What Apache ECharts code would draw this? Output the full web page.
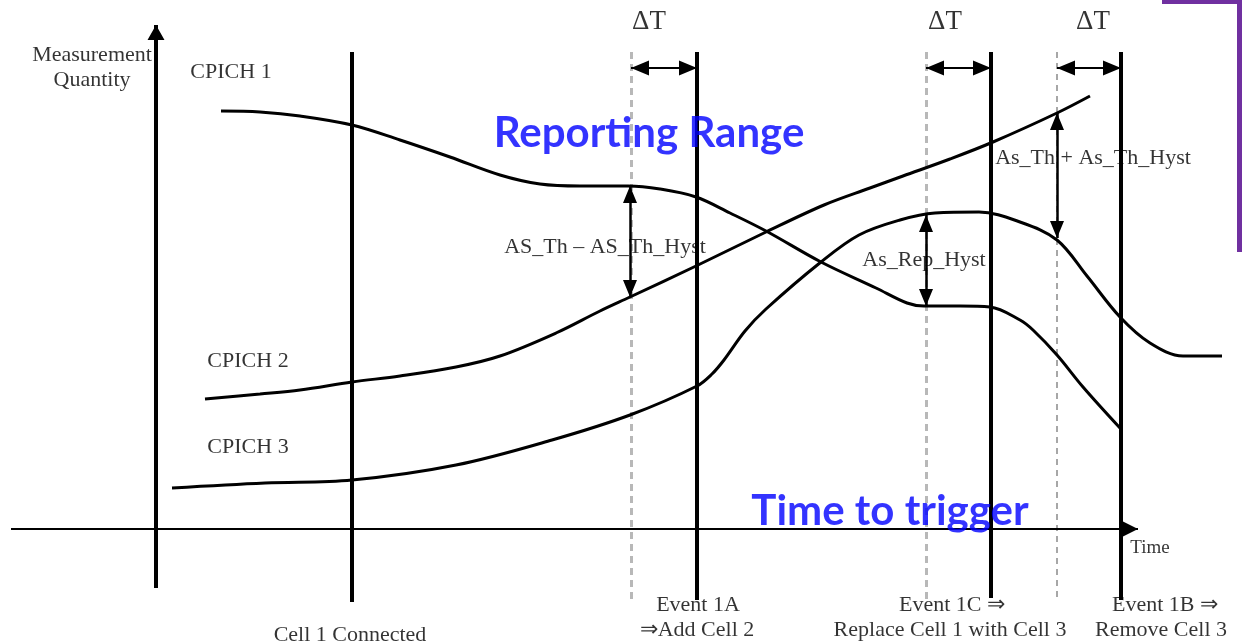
<!DOCTYPE html>
<html><head><meta charset="utf-8">
<script src="https://cdn.jsdelivr.net/npm/echarts@6/dist/echarts.min.js"></script>
<style>html,body{margin:0;padding:0;background:#fff}#c{width:1242px;height:644px}</style>
</head><body><div id="c"></div>
<script>
// Data in diagram units: x = time, y = measurement (axis drawn inverted)
const cpich1 = [[221,111],[260,112],[300,116],[352,125],[400,140],[450,157],[500,175],[540,184],[580,186],[628,186],[660,189],[696,197],[730,213],[766,231],[821,262],[876,288],[907,303],[924,306],[960,306],[990,307],[1020,320],[1033,330],[1057,355],[1083,387],[1120,428]];
const cpich2 = [[205,399],[260,394],[300,390],[352,382],[400,376],[456,367],[500,356],[556,333],[600,311],[630,297],[696,266],[766,232],[824,205],[870,188],[903,176],[950,159],[993,142],[1057,113],[1090,96]];
const cpich3 = [[172,488],[265,483],[352,480],[456,465],[552,440],[630,415],[697,386],[712,374],[724,360],[745,331],[766,309],[821,262],[859,235],[900,220],[935,213],[979,212],[1020,222],[1057,240],[1087,276],[1120,317],[1150,343],[1183,356],[1222,356]];
const eventTimes = [352, 697, 991, 1121];
const eventSpan = [[52,602],[52,600],[52,598],[52,600]];
const triggerStarts = [631, 926];
const triggerStartsThin = [1057];
const triggerSpan = [52, 602];
const deltaLevel = 68;
const deltaPairs = [[631,697],[926,991],[1057,1121]];
const hystArrows = [[630,186,297],[926,215,306],[1057,113,238]];
const yAxisLine = [[156,588],[156,25]];
const xAxisLine = [[11,529],[1138,529]];
const serifLabels = [
  ['Measurement\nQuantity',92,68],['CPICH 1',231,72],['CPICH 2',248,361],['CPICH 3',248,447],
  ['AS_Th – AS_Th_Hyst',605,247],['As_Rep_Hyst',924,260],['As_Th + As_Th_Hyst',1093,158],
  ['Cell 1 Connected',350,635],['Event 1A',698,605],['⇒Add Cell 2',697,630],
  ['Event 1C ⇒',952,605],['Replace Cell 1 with Cell 3',950,630],['Event 1B ⇒',1165,605],['Remove Cell 3',1161,630]
];
const deltaLabels = [['ΔT',649,22],['ΔT',945,22],['ΔT',1093,22]];
const timeLabel = [['Time',1150,548]];
const blueLabels = [['Reporting Range',649,133],['Time to trigger',890,511]];
const frameLines = [[[1162,1],[1242,1]],[[1239,0],[1239,252]]];

// filled triangle (length L, width W) whose tip sits at the centre of a 40px symbol box
const BOX = 40;
function tri(L, W){
  const c = BOX/2;
  return 'path://M0,0 L0.01,0 L0,0.01 Z M'+BOX+','+BOX+' L'+(BOX-0.01)+','+BOX+' L'+BOX+','+(BOX-0.01)+' Z M'+c+','+c+' L'+(c+W/2)+','+(c+L)+' L'+(c-W/2)+','+(c+L)+' Z';
}
const chart = echarts.init(document.getElementById('c'), null, {renderer:'canvas'});
function curve(d){return {type:'line',data:d,smooth:0.35,showSymbol:false,symbol:'none',lineStyle:{color:'#000',width:3},z:3,silent:true};}
function lines(data,style,sym,z){return {type:'lines',coordinateSystem:'cartesian2d',data:data.map(c=>({coords:c})),lineStyle:Object.assign({opacity:1},style),symbol:sym||'none',symbolSize:BOX,z:z||2,silent:true,animation:false};}
function texts(arr,label,z){return {type:'scatter',symbolSize:1,itemStyle:{color:'rgba(0,0,0,0)'},data:arr.map(a=>({name:a[0],value:[a[1],a[2]]})),label:Object.assign({show:true,position:'inside',formatter:p=>p.name},label),z:z||5,silent:true};}
const serif = '"Liberation Serif","Times New Roman",serif';
const dT = tri(18,15), hy = tri(17,14);
chart.setOption({
  animation:false,
  backgroundColor:'#fff',
  grid:{left:0,right:0,top:0,bottom:0},
  xAxis:{type:'value',min:0,max:1242,show:false},
  yAxis:{type:'value',min:0,max:644,inverse:true,show:false},
  series:[
    curve(cpich1),curve(cpich2),curve(cpich3),
    lines(eventTimes.map((x,i)=>[[x,eventSpan[i][0]],[x,eventSpan[i][1]]]),{color:'#000',width:4}),
    lines(triggerStarts.map(x=>[[x,triggerSpan[0]],[x,triggerSpan[1]]]),{color:'#b8b8b8',width:3,type:[7,5]}),
    lines(triggerStartsThin.map(x=>[[x,triggerSpan[0]],[x,triggerSpan[1]]]),{color:'#8a8a8a',width:1.5,type:[6,5]}),
    lines(deltaPairs.map(p=>[[p[0],deltaLevel],[p[1],deltaLevel]]),{color:'#000',width:2},[dT,dT],4),
    lines(hystArrows.map(a=>[[a[0],a[1]],[a[0],a[2]]]),{color:'#000',width:2.5},[hy,hy],4),
    lines([yAxisLine],{color:'#000',width:4},['none',tri(15,17)],4),
    lines([xAxisLine],{color:'#000',width:2},['none',tri(16,16)],4),
    lines(frameLines,{color:'#7030a0',width:5},'none',6),
    texts(serifLabels,{fontFamily:serif,fontSize:22,color:'#000',lineHeight:25}),
    texts(deltaLabels,{fontFamily:serif,fontSize:27,color:'#000'}),
    texts(timeLabel,{fontFamily:serif,fontSize:19,color:'#000'}),
    texts(blueLabels,{fontFamily:'Lato, "Open Sans", sans-serif',fontWeight:'bold',fontSize:42,color:'#0000ff'},7)
  ]
});
</script></body></html>
